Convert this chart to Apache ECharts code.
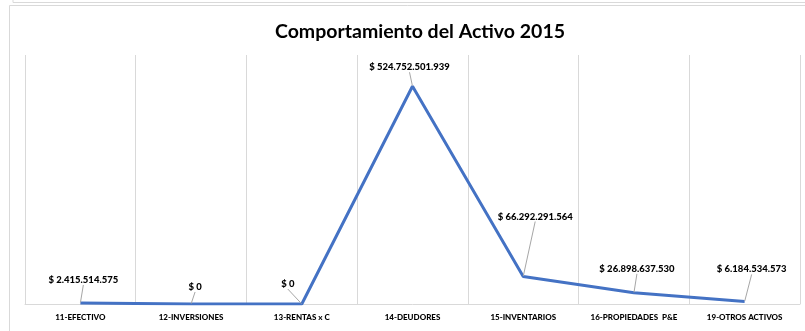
<!DOCTYPE html>
<html>
<head>
<meta charset="utf-8">
<script src="https://cdn.jsdelivr.net/npm/echarts@6/dist/echarts.min.js"></script>
<style>
  html, body { margin: 0; padding: 0; background: #fff; }
  #chart { width: 805px; height: 331px; }
</style>
</head>
<body>
<div id="chart"></div>
<script>
// Asset accounts and their 2015 balances (pesos)
const categories = ['11-EFECTIVO', '12-INVERSIONES', '13-RENTAS x C', '14-DEUDORES',
  '15-INVENTARIOS', '16-PROPIEDADES  P&E', '19-OTROS ACTIVOS'];
const values = [2415514575, 0, 0, 524752501939, 66292291564, 26898637530, 6184534573];

// Where each value label sits relative to its point (dx, dy in px)
const labelShift = [[3, -23], [4, -17], [-14, -20], [-3, -19], [12, -60], [3, -24], [7, -32]];

function money(v) {
  const s = Math.round(v).toString().replace(/\B(?=(\d{3})+(?!\d))/g, '.');
  return '$ ' + s;
}

const chart = echarts.init(document.getElementById('chart'), null, { renderer: 'canvas' });
const frame = '#d9d9d9';

chart.setOption({
  animation: false,
  backgroundColor: '#fff',
  title: {
    text: 'Comportamiento del Activo 2015',
    left: 415,
    top: 17,
    textAlign: 'center',
    textStyle: { fontFamily: 'Lato', fontWeight: 'bold', fontSize: 19.5, color: '#000' }
  },
  graphic: [
    { type: 'polyline', shape: { points: [[13, 0], [13, 2.5], [805, 2.5]] }, style: { stroke: frame, lineWidth: 1, fill: null } },
    { type: 'polyline', shape: { points: [[9.5, 331], [9.5, 5.5], [805, 5.5]] }, style: { stroke: frame, lineWidth: 1, fill: null } }
  ],
  grid: { left: 25, right: 5, top: 55, bottom: 27 },
  xAxis: {
    type: 'category',
    data: categories,
    boundaryGap: true,
    axisLine: { lineStyle: { color: frame, width: 1 } },
    axisTick: { show: false },
    splitLine: { show: true, lineStyle: { color: frame, width: 1 } },
    axisLabel: {
      interval: 0, margin: 9,
      fontFamily: 'Lato', fontWeight: 900, fontSize: 8, color: '#000'
    }
  },
  yAxis: {
    type: 'value', min: 0, max: 600000000000,
    show: false, splitLine: { show: false }
  },
  series: [{
    type: 'line',
    data: values,
    symbol: 'circle',
    symbolSize: 1,
    showSymbol: true,
    itemStyle: { color: 'rgba(68,114,196,0)', borderWidth: 0 },
    lineStyle: { color: '#4472C4', width: 3 },
    label: {
      show: true,
      position: 'inside',
      formatter: p => money(p.value),
      fontFamily: 'Lato', fontWeight: 900, fontSize: 9.5, color: '#000'
    },
    labelLine: { show: true, lineStyle: { color: '#a6a6a6', width: 1 } },
    labelLayout: p => ({ dx: labelShift[p.dataIndex][0], dy: labelShift[p.dataIndex][1] })
  }]
});
</script>
</body>
</html>
